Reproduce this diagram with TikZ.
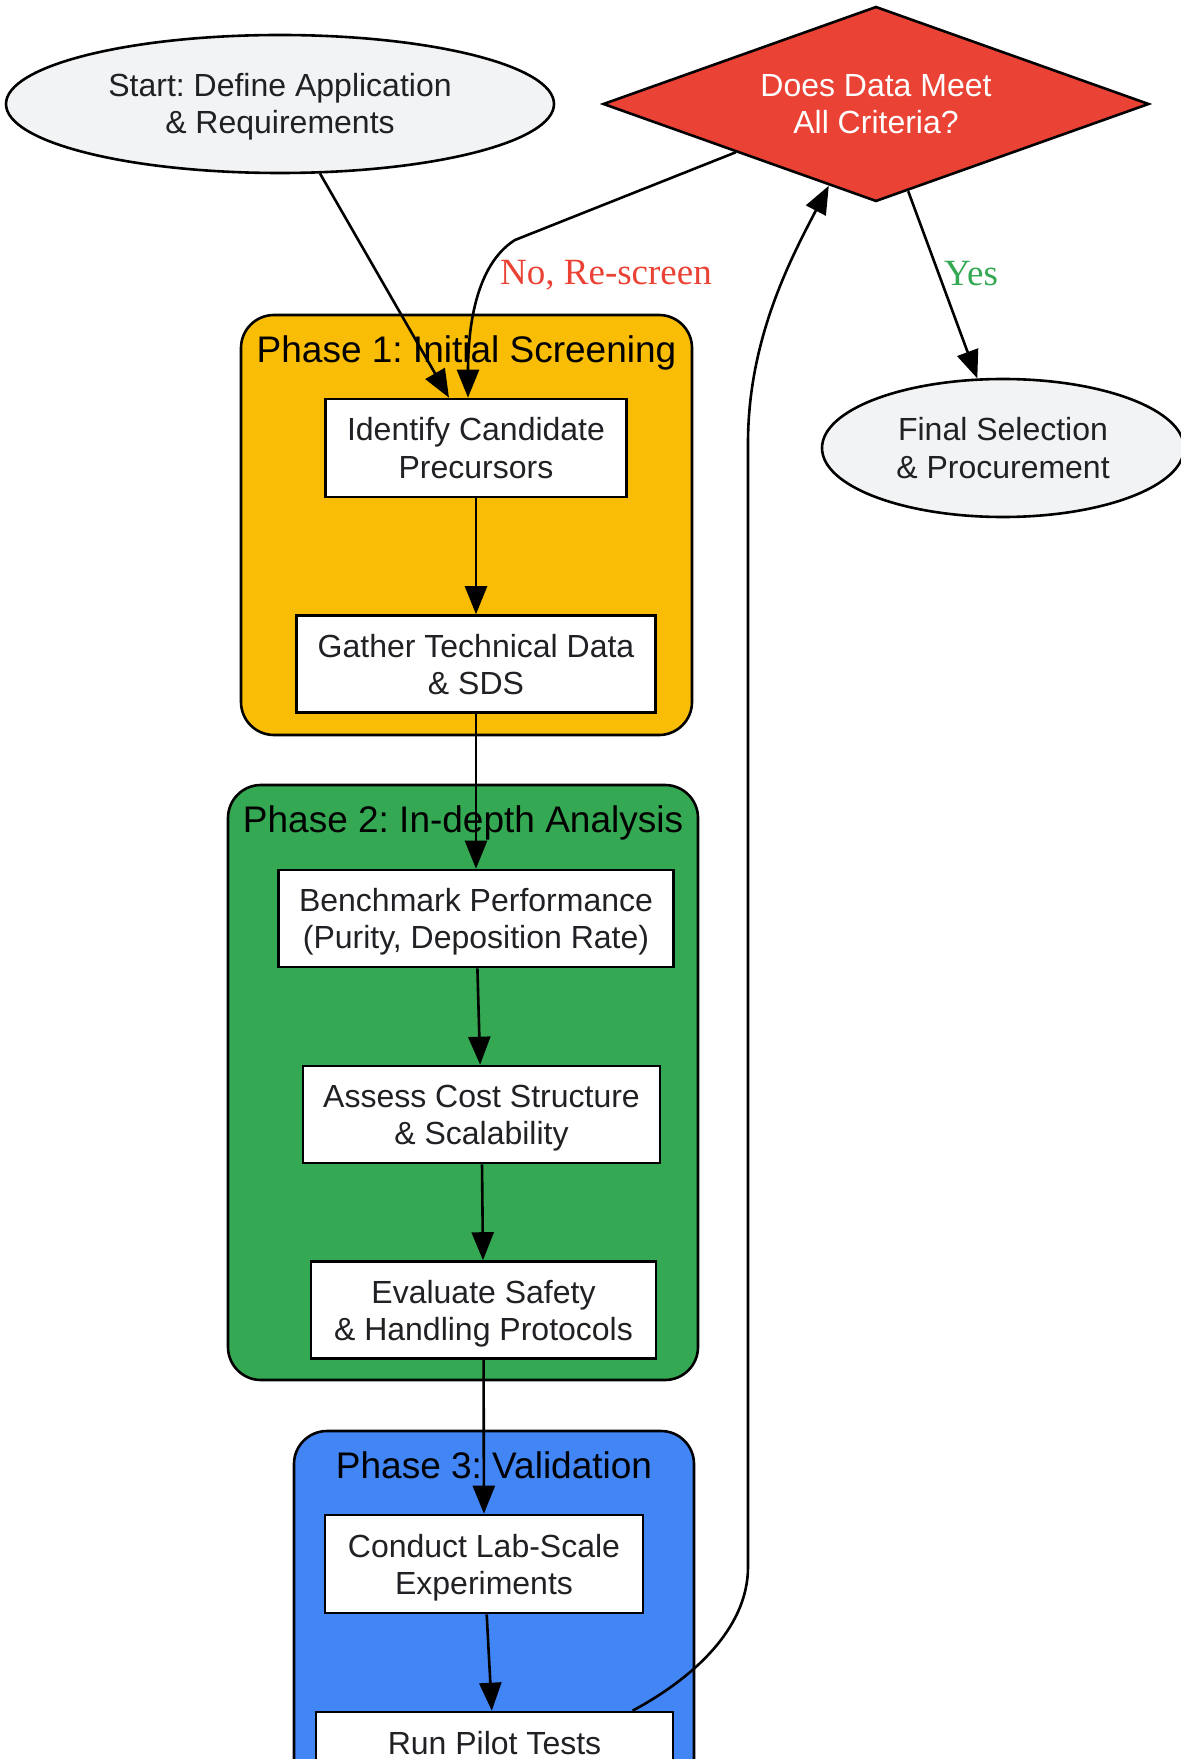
\documentclass[tikz,border=0pt]{standalone}
\usepackage{fontspec}
\setmainfont{Liberation Sans}
\newfontfamily\labelfont{Liberation Serif}
\frenchspacing
\usetikzlibrary{shapes.geometric,arrows.meta,calc}
\definecolor{ink}{HTML}{202124}
\definecolor{termfill}{HTML}{F1F3F4}
\definecolor{phaseyellow}{HTML}{FABD05}
\definecolor{phasegreen}{HTML}{34A853}
\definecolor{phaseblue}{HTML}{4285F4}
\definecolor{decred}{HTML}{EA4335}

\begin{document}
\begin{tikzpicture}[x=0.5pt,y=-0.5pt,
  every node/.style={font=\fontsize{16}{18.5}\selectfont, text=ink, align=center},
  twoline/.style={text height=33.5pt, text depth=3.5pt},
  box/.style={draw, rectangle, twoline, line width=1.3pt, fill=white, inner sep=0pt, minimum height=48.5pt},
  term/.style={draw, ellipse, twoline, line width=1.3pt, fill=termfill, inner sep=0pt, minimum width=274pt, minimum height=69pt},
  decide/.style={draw, diamond, twoline, aspect=2.8, line width=1.3pt, fill=decred, text=white, inner sep=0pt, minimum width=273pt, minimum height=97.5pt},
  phase/.style={draw, line width=1.3pt, rounded corners=16.5pt},
  ptitle/.style={font=\fontsize{18.5}{22}\selectfont, text=black},
  lbl/.style={font=\labelfont\fontsize{18.5}{22}\selectfont},
  flow/.style={-{Triangle[length=14pt,width=11pt]}, line width=1.3pt}]
\clip (0,0) rectangle (1181,1759);

\draw[phase, fill=phaseyellow] (241,315) rectangle (692,735);
\draw[phase, fill=phasegreen] (228,785) rectangle (698,1380);
\draw[phase, fill=phaseblue] (294,1431) rectangle (694,1850);
\node[ptitle] (pone) at (466.5,352.5) {Phase 1: Initial Screening};
\node[ptitle] (ptwo) at (463,822.5) {Phase 2: In-depth Analysis};
\node[ptitle] (pthree) at (494,1465) {Phase 3: Validation};

\node[term] (start) at (280,104) {Start: Define Application\\\& Requirements};
\node[decide] (dec) at (876,104) {Does Data Meet\\All Criteria?};
\node[term, minimum width=181pt] (final) at (1003,448) {Final Selection\\\& Procurement};

\node[box, minimum width=150.5pt, minimum height=49pt] (ident) at (476,448) {Identify Candidate\\Precursors};
\node[box, minimum width=179.5pt] (gather) at (476,664) {Gather Technical Data\\\& SDS};
\node[box, minimum width=197.5pt] (bench) at (476,918.5) {Benchmark Performance\\(Purity, Deposition Rate)};
\node[box, minimum width=178.5pt] (assess) at (481.5,1114.5) {Assess Cost Structure\\\& Scalability};
\node[box, minimum width=172.5pt] (safety) at (483.5,1310) {Evaluate Safety\\\& Handling Protocols};
\node[box, minimum width=159pt, minimum height=49pt] (lab) at (484,1564) {Conduct Lab-Scale\\Experiments};
\node[box, minimum width=178.5pt, minimum height=49pt] (pilot) at (494.5,1761) {Run Pilot Tests\\\strut};

\draw[flow] (start) -- ($(ident.north)+(-27,0)$);
\draw[flow] (dec.199) -- (515,240) .. controls (475,265) and (468,330) .. ($(ident.north)+(-8,0)$);
\draw[flow] (dec) -- (final);
\draw[flow] (ident) -- (gather);
\draw[flow] (gather) -- (bench);
\draw[flow] (bench) -- (assess);
\draw[flow] (assess) -- (safety);
\draw[flow] (safety) -- (lab);
\draw[flow] (lab) -- (pilot);
\draw[flow] ($(pilot.north)+(138,0)$) .. controls (690,1680) and (748,1630) .. (748,1567) -- (748,443) .. controls (748,340) and (790,260) .. (dec.240);

\node[lbl, text=decred] (nolbl) at (606,275.5) {No, Re-screen};
\node[lbl, text=phasegreen] (yeslbl) at (971,274) {Yes};

\end{tikzpicture}
\end{document}
